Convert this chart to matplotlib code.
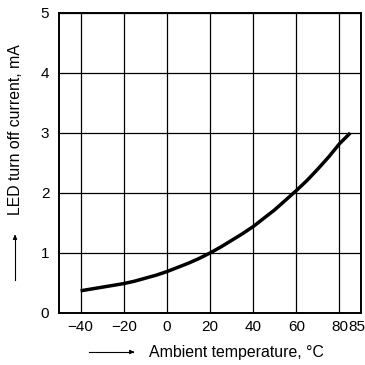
import matplotlib
matplotlib.use("Agg")
import matplotlib.pyplot as plt
from matplotlib.transforms import ScaledTranslation

plt.rcParams["font.family"] = ["Liberation Sans", "DejaVu Sans"]

temperatura = [-40, -35, -30, -25, -20, -15, -10, -5, 0, 5, 10, 15, 20,
               25, 30, 35, 40, 45, 50, 55, 60, 65, 70, 75, 80, 85]
corriente = [0.37, 0.40, 0.43, 0.46, 0.49, 0.53, 0.58, 0.63, 0.69, 0.76,
             0.83, 0.91, 1.00, 1.10, 1.21, 1.32, 1.44, 1.58, 1.72, 1.88,
             2.04, 2.21, 2.40, 2.60, 2.82, 3.00]
x_ticks = [-40, -20, 0, 20, 40, 60, 80, 85]
x_labels = ["\u221240", "\u221220", "0", "20", "40", "60", "80", "85"]
y_ticks = [0, 1, 2, 3, 4, 5]

fig = plt.figure(figsize=(3.65, 3.65), dpi=100)
ax = fig.add_axes([59 / 365, 1 - 313 / 365, 302 / 365, 300 / 365])

ax.plot(temperatura, corriente, color="black", linewidth=2.5,
        solid_capstyle="butt")

ax.set_xlim(-50, 90)
ax.set_ylim(0, 5)
ax.set_xticks(x_ticks)
ax.set_xticklabels(x_labels)
ax.set_yticks(y_ticks)
ax.tick_params(length=0, labelsize=11, colors="black")
ax.tick_params(axis="x", pad=5)
ax.tick_params(axis="y", pad=7)
ax.grid(True, color="black", linewidth=0.9)
ax.xaxis.get_gridlines()[-1].set_visible(False)

# etiqueta 85 pegada a la derecha de 80, como en el original
lbl = ax.get_xticklabels()[-1]
lbl.set_horizontalalignment("left")
lbl.set_transform(lbl.get_transform() + ScaledTranslation(-2 / 100, 0, fig.dpi_scale_trans))

for s in ax.spines.values():
    s.set_linewidth(1.4)

# etiquetas de ejes con flecha
fig.text(149 / 365, 1 - 352 / 365, "Ambient temperature, \u00b0C",
         ha="left", va="center", fontsize=11.4)
fig.add_artist(plt.Line2D([89 / 365, 133 / 365], [1 - 352 / 365, 1 - 352 / 365],
                          color="black", linewidth=0.8))
ax.annotate("", xy=(137 / 365, 1 - 352 / 365), xytext=(130 / 365, 1 - 352 / 365),
            xycoords="figure fraction",
            arrowprops=dict(arrowstyle="-|>", color="black", lw=0.8,
                            mutation_scale=6))

fig.text(16 / 365, 1 - 130 / 365, "LED turn off current, mA",
         ha="center", va="center", rotation=90, fontsize=11.4)
fig.add_artist(plt.Line2D([15 / 365, 15 / 365], [1 - 280 / 365, 1 - 236 / 365],
                          color="black", linewidth=0.8))
ax.annotate("", xy=(15 / 365, 1 - 232 / 365), xytext=(15 / 365, 1 - 239 / 365),
            xycoords="figure fraction",
            arrowprops=dict(arrowstyle="-|>", color="black", lw=0.8,
                            mutation_scale=6))

fig.savefig("out.png", dpi=100)
